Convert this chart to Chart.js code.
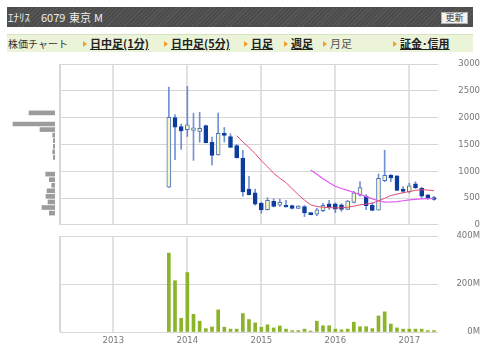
<!DOCTYPE html>
<html>
<head>
<meta charset="utf-8">
<script src="https://cdn.jsdelivr.net/npm/chart.js@4.4.1/dist/chart.umd.min.js"></script>
<style>
  body { margin: 0; width: 480px; height: 361px; background: #fff; position: relative; overflow: hidden;
         font-family: "Noto Sans CJK JP", sans-serif; }
  .head { position: absolute; left: 7px; top: 7px; width: 466px; height: 20px; color: #eee; font-size: 11px;
          background: repeating-linear-gradient(135deg, #585858 0 1px, #4c4c4c 1px 3px); }
  .head span { position: absolute; top: 0; line-height: 20px; }
  .btn { position: absolute; left: 441px; top: 12px; width: 25px; height: 10px; background: #f2f2f2;
         border: 1px solid #b0b0b0; color: #333; font-size: 9px; line-height: 10px; text-align: center; }
  .tabs { position: absolute; left: 7px; top: 34px; width: 466px; height: 18px; background: #ebf3d8;
          border-top: 1px solid #d6e2c0; box-sizing: border-box; font-size: 11px; color: #333; }
  .tabs span { position: absolute; top: 0; line-height: 17px; white-space: nowrap; }
  .tabs b { position: absolute; top: 0; line-height: 17px; white-space: nowrap; text-decoration: underline; color: #222; }
  .tabs i { position: absolute; top: 6px; width: 0; height: 0; border-left: 4px solid #f0a030;
            border-top: 3px solid transparent; border-bottom: 3px solid transparent; }
  canvas { position: absolute; }
</style>
</head>
<body>
<div class="head">
  <span style="left:1px">ｴﾅﾘｽ</span>
  <span style="left:34px">6079</span>
  <span style="left:62px">東京</span>
  <span style="left:87px">M</span>
</div>
<div class="btn">更新</div>
<div class="tabs">
  <span style="left:1px;font-size:10px">株価チャート</span>
  <i style="left:76px"></i><b style="left:83px">日中足(1分)</b>
  <i style="left:157px"></i><b style="left:164px">日中足(5分)</b>
  <i style="left:237px"></i><b style="left:244px">日足</b>
  <i style="left:277px"></i><b style="left:284px">週足</b>
  <i style="left:316px"></i><span style="left:323px;color:#555">月足</span>
  <i style="left:386px"></i><b style="left:393px">証金･信用</b>
</div>

<canvas id="profile" width="60" height="181" style="left:0;top:54px"></canvas>
<canvas id="price" width="480" height="181" style="left:0;top:54px"></canvas>
<canvas id="volume" width="480" height="135" style="left:0;top:226px"></canvas>

<script>
// monthly bars, Oct 2013 - May 2017
const months = [
  "2013-10", "2013-11", "2013-12",
  "2014-01", "2014-02", "2014-03", "2014-04", "2014-05", "2014-06",
  "2014-07", "2014-08", "2014-09", "2014-10", "2014-11", "2014-12",
  "2015-01", "2015-02", "2015-03", "2015-04", "2015-05", "2015-06",
  "2015-07", "2015-08", "2015-09", "2015-10", "2015-11", "2015-12",
  "2016-01", "2016-02", "2016-03", "2016-04", "2016-05", "2016-06",
  "2016-07", "2016-08", "2016-09", "2016-10", "2016-11", "2016-12",
  "2017-01", "2017-02", "2017-03", "2017-04", "2017-05"
];
const opens = [705, 2000, 1836, 1777, 1764, 1746, 1854, 1542, 1306, 1710, 1650, 1482, 1247, 669, 596,
  403, 282, 439, 370, 367, 361, 307, 343, 228, 199, 264, 391, 391, 373, 289, 421, 553, 535,
  367, 277, 824, 927, 915, 669, 620, 765, 680, 560, 512];
const highs = [2570, 2060, 1880, 2585, 2084, 2102, 1860, 1638, 2084, 1818, 1699, 1500, 1390, 907, 669,
  427, 506, 488, 475, 457, 370, 360, 361, 235, 307, 403, 457, 409, 397, 457, 626, 806, 566,
  415, 950, 1391, 940, 920, 716, 777, 806, 705, 566, 535];
const lows = [700, 1216, 1410, 1650, 1204, 1542, 1530, 1120, 1301, 1547, 1440, 1245, 535, 560, 367,
  217, 277, 336, 343, 331, 300, 300, 155, 186, 173, 246, 289, 228, 253, 282, 409, 535, 282,
  264, 277, 806, 806, 643, 596, 596, 680, 506, 475, 463];
const closes = [2006, 1825, 1753, 1867, 1813, 1800, 1536, 1294, 1710, 1668, 1446, 1252, 614, 566, 385,
  282, 457, 343, 420, 336, 307, 349, 222, 192, 282, 367, 331, 295, 289, 445, 596, 698, 361,
  271, 867, 927, 878, 643, 626, 728, 692, 535, 506, 475];
// volume, millions of shares
const volumes = [329, 214, 57, 248, 74, 45, 14, 21, 92, 20, 12, 12, 77, 52, 38, 20, 30, 17, 25, 12,
  6, 6, 12, 4, 45, 26, 26, 12, 9, 12, 41, 22, 22, 14, 67, 84, 33, 17, 12, 12, 12, 12, 6, 6];
// moving averages (12-month from 2014-09, 24-month from 2015-09)
const ma12 = [1665, 1549, 1444, 1330, 1197, 1085, 963, 870, 790, 674, 563, 462, 374, 345, 330, 322,
  318, 318, 330, 350, 375, 388, 405, 448, 495, 548, 575, 600, 622, 645, 656, 650, 638];
const ma24 = [1023, 945, 860, 785, 720, 680, 645, 605, 570, 528, 485, 450, 425, 428, 435, 450,
  466, 478, 486, 490, 495];
const yearTicks = ["2013", "2014", "2015", "2016", "2017"];
const priceTicks = ["0", "500", "1000", "1500", "2000", "2500", "3000"];
const volumeTicks = ["0M", "200M", "400M"];
// volume by price, left side
const profilePrices = [2050, 1850, 1750, 1650, 1550, 1450, 1350, 1250, 950, 850, 750, 650, 550, 450, 350, 250];
const profileVolumes = [260, 420, 150, 23, 17, 17, 23, 17, 93, 57, 33, 80, 90, 70, 130, 57];

function monthIndex(s) {
  const [y, m] = s.split("-").map(Number);
  return (y - 2013) * 12 + (m - 1);
}
const xs = months.map(monthIndex);

const tickFont = { family: "DejaVu Sans", size: 8.5 };

function xAxis(showLabels) {
  return {
    type: "linear",
    min: -8.65,
    max: 52.65,
    offset: false,
    afterBuildTicks: (s) => { s.ticks = yearTicks.map((y) => ({ value: (Number(y) - 2013) * 12 })); },
    ticks: { display: showLabels, color: "#777", font: tickFont, padding: 4, maxRotation: 0,
             callback: (v, i) => yearTicks[i] },
    grid: { color: "#e2e2e2", lineWidth: 2, drawTicks: false, offset: false },
    border: { display: false },
    afterFit: (s) => { s.height = showLabels ? 29 : 0; }
  };
}

// left border of the plot boxes
const leftEdge = {
  id: "leftEdge",
  beforeDatasetsDraw(chart) {
    const { ctx, chartArea: a } = chart;
    ctx.save();
    ctx.strokeStyle = "#d8d8d8";
    ctx.lineWidth = 2;
    ctx.beginPath();
    ctx.moveTo(a.left, a.top);
    ctx.lineTo(a.left, a.bottom);
    ctx.stroke();
    ctx.restore();
  }
};

const isUp = closes.map((c, i) => c >= opens[i]);

new Chart(document.getElementById("price"), {
  type: "bar",
  data: {
    datasets: [
      {
        type: "line",
        data: ma12.map((v, i) => ({ x: xs[i + 11], y: v })),
        borderColor: "#e34a72",
        borderWidth: 1,
        pointRadius: 0,
        order: 0
      },
      {
        type: "line",
        data: ma24.map((v, i) => ({ x: xs[i + 23], y: v })),
        borderColor: "#e05cf0",
        borderWidth: 1.2,
        pointRadius: 0,
        order: 0
      },
      {
        // candle bodies
        data: xs.map((x, i) => ({ x: x, y: [opens[i], closes[i]] })),
        backgroundColor: isUp.map((u) => (u ? "#fbf8bf" : "#0c3c9c")),
        borderColor: isUp.map((u) => (u ? "#4a72c4" : "#0c3c9c")),
        borderWidth: 1,
        borderSkipped: false,
        barThickness: 4,
        grouped: false,
        order: 1
      },
      {
        // wicks
        data: xs.map((x, i) => ({ x: x, y: [lows[i], highs[i]] })),
        backgroundColor: "rgba(80,118,205,0.8)",
        barThickness: 1,
        grouped: false,
        order: 2
      }
    ]
  },
  options: {
    responsive: false,
    animation: false,
    layout: { padding: { left: 60, right: 0, top: 6, bottom: 8 } },
    plugins: { legend: { display: false }, tooltip: { enabled: false } },
    scales: {
      x: xAxis(false),
      y: {
        position: "right",
        min: 0,
        max: 3000,
        afterBuildTicks: (s) => { s.ticks = priceTicks.map((v) => ({ value: Number(v) })); },
        ticks: { color: "#777", font: tickFont, padding: 5, crossAlign: "far",
                 callback: (v, i) => priceTicks[i] },
        grid: { color: "#d6d6d6", lineWidth: 1, drawTicks: false },
        border: { display: false },
        afterFit: (s) => { s.width = 42; }
      }
    }
  },
  plugins: [leftEdge]
});

new Chart(document.getElementById("volume"), {
  type: "bar",
  data: {
    datasets: [{
      data: xs.map((x, i) => ({ x: x, y: volumes[i] })),
      backgroundColor: "#8bb42b",
      barThickness: 3,
      grouped: false
    }]
  },
  options: {
    responsive: false,
    animation: false,
    layout: { padding: { left: 60, right: 0, top: 6, bottom: 0 } },
    plugins: { legend: { display: false }, tooltip: { enabled: false } },
    scales: {
      x: xAxis(true),
      y: {
        position: "right",
        min: 0,
        max: 400,
        afterBuildTicks: (s) => { s.ticks = volumeTicks.map((v) => ({ value: parseInt(v, 10) })); },
        ticks: { color: "#777", font: tickFont, padding: 5, crossAlign: "far",
                 callback: (v, i) => volumeTicks[i] },
        grid: { color: "#d6d6d6", lineWidth: 1, drawTicks: false },
        border: { display: false },
        afterFit: (s) => { s.width = 42; }
      }
    }
  },
  plugins: [leftEdge]
});

new Chart(document.getElementById("profile"), {
  type: "bar",
  data: {
    datasets: [{
      data: profilePrices.map((p, i) => ({ x: profileVolumes[i], y: p })),
      backgroundColor: "#9c9c9c",
      barThickness: 4
    }]
  },
  options: {
    indexAxis: "y",
    responsive: false,
    animation: false,
    layout: { padding: { left: 0, right: 5, top: 6, bottom: 8 } },
    plugins: { legend: { display: false }, tooltip: { enabled: false } },
    scales: {
      x: { type: "linear", display: false, reverse: true, min: 0, max: 550 },
      y: { type: "linear", display: false, min: 0, max: 3000, offset: false }
    }
  }
});
</script>
</body>
</html>
